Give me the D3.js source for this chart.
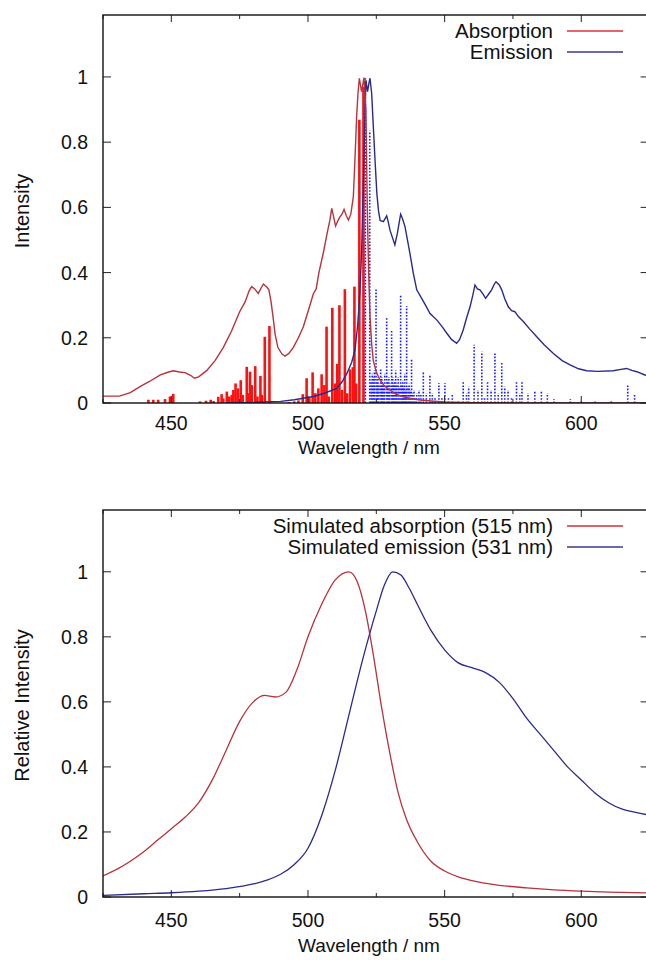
<!DOCTYPE html>
<html>
<head>
<meta charset="utf-8">
<script src="https://cdn.jsdelivr.net/npm/d3@7"></script>
<style>
  html, body { margin: 0; padding: 0; background: #fff; }
  svg text { font-family: 'Liberation Sans', Arial, sans-serif; fill: #111; }
</style>
</head>
<body>
<svg id="chart" width="646" height="960"></svg>
<script>
// x / y tick values shared by both panels
const xTicks = [450, 500, 550, 600];
const xMinorTicks = [425, 475, 525, 575, 625];
const yTicks = [0, 0.2, 0.4, 0.6, 0.8, 1];

// top panel: experimental absorption curve [nm, intensity]
const absExp = [[425,0.021],[431,0.021],[435,0.032],[438.5,0.05],[442,0.066],[446,0.086],[449,0.095],[450.7,0.099],[453,0.095],[455,0.093],[457,0.085],[458.5,0.076],[460,0.08],[463,0.1],[466,0.13],[469,0.17],[472,0.22],[475,0.28],[477,0.31],[478.5,0.345],[479.4,0.357],[480.5,0.35],[481.8,0.336],[483,0.355],[483.7,0.365],[485,0.355],[485.7,0.347],[486.5,0.31],[487.2,0.265],[488,0.21],[489,0.17],[490.5,0.15],[491.6,0.144],[493,0.152],[494.6,0.17],[496.5,0.2],[498.3,0.234],[500,0.28],[502,0.336],[503,0.35],[504,0.4],[505.6,0.46],[507,0.52],[508,0.56],[508.7,0.597],[509.4,0.57],[510.1,0.543],[511,0.56],[511.7,0.571],[512.5,0.58],[513.2,0.594],[514,0.575],[514.8,0.561],[515.7,0.58],[516.6,0.633],[517.2,0.75],[517.8,0.878],[518.3,0.95],[518.8,0.996],[519.6,0.955],[520.5,0.998],[521.2,0.9],[521.7,0.6],[522.2,0.4],[522.7,0.265],[523.3,0.18],[523.9,0.13],[525,0.095],[526.4,0.07],[528,0.052],[530,0.04],[532,0.028],[534.8,0.019],[538,0.013],[541,0.009],[545,0.006],[550,0.003],[560,0.001],[575,0],[626,0]];

// top panel: experimental emission curve
const emExp = [[470,0],[480,0.002],[490,0.005],[495,0.01],[502,0.02],[506,0.03],[510.5,0.045],[512.5,0.065],[514.2,0.09],[516,0.125],[517.2,0.163],[518.2,0.24],[519,0.34],[519.6,0.46],[520,0.59],[520.5,0.76],[520.9,0.9],[521.2,0.99],[521.8,0.955],[522.3,0.98],[522.7,0.996],[523.3,0.95],[523.9,0.85],[524.5,0.75],[525.2,0.643],[525.8,0.59],[526.4,0.56],[527.6,0.556],[528.8,0.574],[529.4,0.555],[530,0.53],[531.8,0.485],[532.7,0.52],[533.9,0.579],[534.6,0.565],[535.5,0.541],[537.3,0.459],[538.5,0.4],[539.8,0.347],[541.6,0.321],[543,0.3],[544.6,0.275],[545.8,0.265],[547.1,0.255],[549,0.235],[550.8,0.214],[552.5,0.195],[554.4,0.183],[555.5,0.195],[556.8,0.224],[558,0.26],[559.3,0.295],[560.3,0.33],[561.1,0.362],[562,0.35],[562.9,0.347],[564,0.335],[565,0.321],[566.2,0.335],[567.2,0.347],[568.2,0.365],[568.8,0.372],[570,0.362],[570.9,0.347],[572,0.32],[573.3,0.295],[574.5,0.283],[575.7,0.28],[577,0.265],[578.8,0.25],[581,0.228],[583.7,0.203],[586.5,0.178],[589.8,0.152],[593,0.13],[595.9,0.117],[599,0.105],[602,0.099],[606,0.097],[611.7,0.099],[614.5,0.103],[616.6,0.106],[618.5,0.1],[620.3,0.096],[623.3,0.086],[626,0.08]];

// top panel: computed absorption transitions (sticks)
const absSticks = [[441.6,0.01],[443.4,0.01],[445.2,0.01],[447.7,0.012],[449.5,0.02],[450.7,0.028],
  [460.5,0.005],[462.7,0.007],[464.4,0.01],[465.5,0.006],[467.2,0.019],[468.4,0.027],[469,0.014],[470.3,0.035],[471.2,0.02],[472.1,0.025],[472.7,0.04],[473.5,0.06],[474.3,0.045],[475.4,0.07],[476.1,0.025],[477.6,0.111],[478.3,0.03],[478.8,0.096],[479.4,0.055],[480.7,0.113],[481.5,0.02],[482.6,0.083],[483.1,0.025],[484.2,0.203],[485.9,0.236],
  [493,0.003],[495,0.005],[496.5,0.008],[498.1,0.027],[499.5,0.076],[500.5,0.015],[501.7,0.094],[502.7,0.03],[503.8,0.045],[505,0.088],[506,0.055],[506.8,0.234],[507.6,0.02],[508.9,0.292],[509.9,0.06],[510.7,0.12],[511.5,0.3],[512.4,0.04],[513.5,0.349],[514.3,0.03],[515.4,0.103],[516.4,0.11],[517,0.357],[517.6,0.06],[518.8,0.869],[520.3,0.97]];

// top panel: computed emission transitions (dotted sticks)
const emSticks = [[521,1.0],[522.6,0.835],[523.1,0.07],[523.5,0.09],[524,0.08],[524.3,0.1],[524.9,0.353],[525.3,0.07],[525.6,0.08],[526,0.06],[526.6,0.107],[527,0.08],[527.3,0.07],[527.7,0.06],[528.1,0.09],[528.8,0.26],[529.2,0.07],[529.6,0.08],[530,0.06],[530.6,0.225],[531,0.08],[531.3,0.06],[531.7,0.07],[532.1,0.1],[532.5,0.06],[533,0.08],[533.4,0.05],[533.9,0.332],[534.3,0.06],[534.7,0.07],[535,0.05],[535.4,0.09],[535.8,0.04],[536.1,0.297],[536.6,0.05],[537,0.06],[537.4,0.04],[537.9,0.133],[538.3,0.03],[538.8,0.04],[539.3,0.02],[539.8,0.03],[540.6,0.04],[541.3,0.025],[542.2,0.097],[543.3,0.03],[544.6,0.087],[545.5,0.03],[546.5,0.02],[547.9,0.061],[549,0.02],[550.1,0.061],[551.4,0.015],[552.8,0.025],[555,0.01],[556.8,0.066],[558,0.03],[558.8,0.05],[560.8,0.179],[562.2,0.04],[563.6,0.158],[564.6,0.02],[565.7,0.066],[567,0.04],[568.4,0.153],[569.6,0.03],[570.9,0.123],[572,0.05],[573.2,0.04],[574.5,0.02],[576.3,0.066],[577.5,0.03],[578.3,0.066],[580.5,0.03],[583,0.035],[585.4,0.035],[587.6,0.03],[590,0.012],[596,0.012],[600,0.01],[605,0.008],[611,0.005],[617,0.056],[619.5,0.025]];

// bottom panel: simulated spectra
const simAbs = [[425,0.065],[430,0.085],[435,0.11],[440,0.14],[445,0.175],[450,0.21],[455,0.245],[460,0.29],[465,0.36],[470,0.45],[475,0.54],[480,0.6],[484,0.62],[488,0.615],[492,0.63],[496,0.7],[500,0.8],[505,0.9],[510,0.975],[515,1.0],[518,0.97],[521,0.88],[524,0.74],[527,0.58],[530,0.44],[533,0.32],[536,0.24],[540,0.17],[545,0.11],[550,0.08],[555,0.062],[560,0.05],[570,0.036],[580,0.028],[590,0.022],[600,0.018],[610,0.015],[626,0.012]];
const simEm = [[425,0.005],[440,0.01],[450,0.013],[460,0.018],[470,0.026],[480,0.04],[485,0.052],[490,0.07],[495,0.1],[500,0.15],[505,0.25],[510,0.39],[515,0.56],[520,0.73],[525,0.88],[528,0.96],[531,1.0],[534,0.99],[537,0.95],[540,0.9],[545,0.82],[550,0.76],[555,0.72],[560,0.705],[565,0.69],[570,0.66],[575,0.61],[580,0.55],[585,0.5],[590,0.45],[595,0.4],[600,0.36],[605,0.32],[610,0.29],[615,0.27],[620,0.26],[626,0.25]];

const RED_LINE = '#b8323c', BLUE_LINE = '#2a2a8c';
const RED_STICK = '#ff1010', BLUE_STICK = '#1a1aff';

const svg = d3.select('#chart');
const left = 103, right = 649.6;
const x = d3.scaleLinear().domain([425, 625]).range([left, right]);

function panel(id, top, bottom, yTitle, legend, tickDy, titleDy) {
  const y = d3.scaleLinear().domain([0, 1.19]).range([bottom, top]);
  const g = svg.append('g');
  g.append('clipPath').attr('id', id).append('rect')
    .attr('x', left).attr('y', top).attr('width', right - left).attr('height', bottom - top);
  const plot = g.append('g').attr('clip-path', `url(#${id})`);

  // ticks, gnuplot style (inward, mirrored)
  const tk = g.append('g').attr('stroke', '#222').attr('stroke-width', 1);
  xTicks.forEach(v => {
    tk.append('line').attr('x1', x(v)).attr('x2', x(v)).attr('y1', bottom).attr('y2', bottom - 7);
    tk.append('line').attr('x1', x(v)).attr('x2', x(v)).attr('y1', top).attr('y2', top + 7);
  });
  xMinorTicks.forEach(v => {
    tk.append('line').attr('x1', x(v)).attr('x2', x(v)).attr('y1', bottom).attr('y2', bottom - 4);
    tk.append('line').attr('x1', x(v)).attr('x2', x(v)).attr('y1', top).attr('y2', top + 4);
  });
  yTicks.forEach(v => {
    tk.append('line').attr('x1', left).attr('x2', left + 8).attr('y1', y(v)).attr('y2', y(v));
    tk.append('line').attr('x1', right).attr('x2', right - 9).attr('y1', y(v)).attr('y2', y(v));
  });

  g.selectAll('.xl').data(xTicks).enter().append('text')
    .attr('x', d => x(d)).attr('y', bottom + tickDy).attr('text-anchor', 'middle')
    .style('font-size', '19.5px').text(d => d);
  g.selectAll('.yl').data(yTicks).enter().append('text')
    .attr('x', 88).attr('y', d => y(d) + 7).attr('text-anchor', 'end')
    .style('font-size', '19.5px').text(d => d);

  g.append('text').attr('x', 369).attr('y', bottom + titleDy).attr('text-anchor', 'middle')
    .style('font-size', '19px').text('Wavelength / nm');
  const cy = (top + bottom) / 2 + 2;
  g.append('text').attr('transform', `translate(29,${cy}) rotate(-90)`)
    .attr('text-anchor', 'middle').style('font-size', '20px').text(yTitle);

  legend.forEach((d, i) => {
    const ly = top + 16 + i * 21;
    g.append('text').attr('x', 553).attr('y', ly + 7).attr('text-anchor', 'end')
      .style('font-size', '20.5px').text(d.label);
    g.append('line').attr('x1', 567).attr('x2', 623).attr('y1', ly).attr('y2', ly)
      .attr('stroke', d.color).attr('stroke-width', 1.3);
  });

  return { y, plot, g, top, bottom };
}

// ---- top panel ----
const P1 = panel('clip1', 15, 403, 'Intensity', [
  { label: 'Absorption', color: '#e0303a' },
  { label: 'Emission', color: '#3a3a8c' }
], 27, 51);
P1.plot.selectAll('.as').data(absSticks).enter().append('line')
  .attr('x1', d => x(d[0])).attr('x2', d => x(d[0]))
  .attr('y1', P1.y(0)).attr('y2', d => P1.y(d[1]))
  .attr('stroke', RED_STICK).attr('stroke-width', 2.6);
P1.plot.selectAll('.es').data(emSticks).enter().append('line')
  .attr('x1', d => x(d[0])).attr('x2', d => x(d[0]))
  .attr('y1', P1.y(0)).attr('y2', d => P1.y(d[1]))
  .attr('stroke', BLUE_STICK).attr('stroke-width', 1.6).attr('stroke-dasharray', '1.6,1.6');
const line1 = d3.line().x(d => x(d[0])).y(d => P1.y(d[1]));
P1.plot.append('path').datum(emExp).attr('d', line1)
  .attr('fill', 'none').attr('stroke', BLUE_LINE).attr('stroke-width', 1.4);
P1.plot.append('path').datum(absExp).attr('d', line1)
  .attr('fill', 'none').attr('stroke', RED_LINE).attr('stroke-width', 1.4);

// ---- bottom panel ----
const P2 = panel('clip2', 510, 897, 'Relative Intensity', [
  { label: 'Simulated absorption (515 nm)', color: '#d0303a' },
  { label: 'Simulated emission (531 nm)', color: '#3a3a8c' }
], 30, 55);
const line2 = d3.line().x(d => x(d[0])).y(d => P2.y(d[1])).curve(d3.curveMonotoneX);
P2.plot.append('path').datum(simAbs).attr('d', line2)
  .attr('fill', 'none').attr('stroke', RED_LINE).attr('stroke-width', 1.3);
P2.plot.append('path').datum(simEm).attr('d', line2)
  .attr('fill', 'none').attr('stroke', BLUE_LINE).attr('stroke-width', 1.3);

// frames drawn last
[P1, P2].forEach(p => {
  p.g.append('rect').attr('x', left).attr('y', p.top).attr('width', right - left)
    .attr('height', p.bottom - p.top).attr('fill', 'none').attr('stroke', '#111').attr('stroke-width', 1.4);
});
</script>
</body>
</html>
